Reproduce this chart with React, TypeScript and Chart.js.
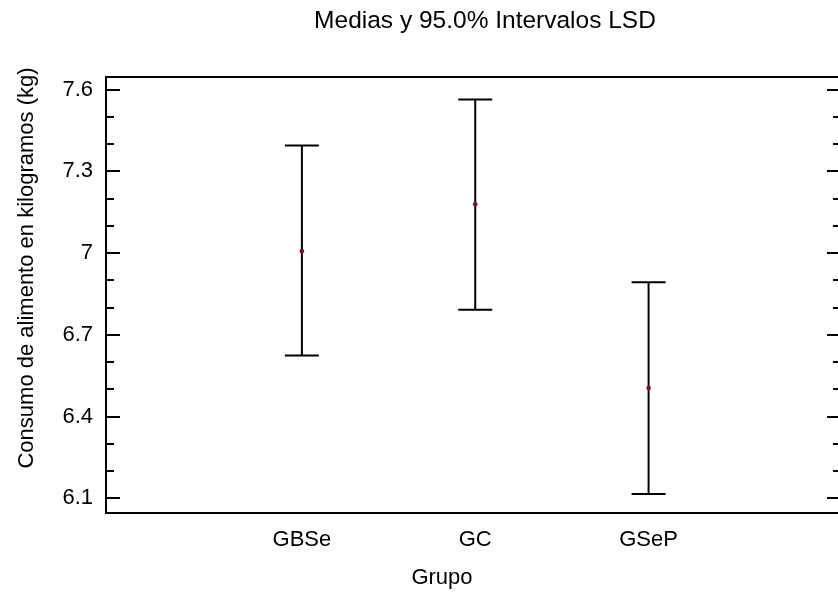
import React, { useEffect, useRef } from 'react';
import { Chart, registerables } from 'chart.js';

Chart.register(...registerables);

// ---- data ----
const groups = ['GBSe', 'GC', 'GSeP'];
const means = [7.007, 7.179, 6.505];
const lowerLimits = [6.624, 6.792, 6.116];
const upperLimits = [7.395, 7.563, 6.893];

const yMajorTicks = [6.1, 6.4, 6.7, 7.0, 7.3, 7.6];
const yTickLabels = ['6.1', '6.4', '6.7', '7', '7.3', '7.6'];
const yMinorTicks = [6.2, 6.3, 6.5, 6.6, 6.8, 6.9, 7.1, 7.2, 7.4, 7.5];
const yRange = [6.046, 7.646];
const xRange = [-0.13, 4.11];

const chartTitle = 'Medias y 95.0% Intervalos LSD';
const xTitle = 'Grupo';
const yTitle = 'Consumo de alimento en kilogramos (kg)';

// ---- styles ----
const FONT = "'Liberation Sans', Arial, Helvetica, sans-serif";
const INK = '#000000';
const MEAN_COLOR = '#7a0a3c';
const CANVAS_W = 860;
const CANVAS_H = 597;

const setTicks = (values: number[]) => (scale: any) => {
  scale.ticks = values.map((v) => ({ value: v }));
};
const fixWidth = (w: number) => (scale: any) => {
  scale.width = w;
};
const fixHeight = (h: number) => (scale: any) => {
  scale.height = h;
};

const titlesPlugin = {
  id: 'titles',
  afterDraw(chart: any) {
    const ctx = chart.ctx as CanvasRenderingContext2D;
    ctx.save();
    ctx.fillStyle = INK;
    ctx.textAlign = 'center';
    ctx.textBaseline = 'middle';
    ctx.font = `24.5px ${FONT}`;
    ctx.fillText(chartTitle, 485, 21);
    ctx.font = `22px ${FONT}`;
    ctx.fillText(xTitle, 442, 578);
    ctx.translate(27, 268);
    ctx.rotate(-Math.PI / 2);
    ctx.fillText(yTitle, 0, 0);
    ctx.restore();
  },
};

export default function App() {
  const canvasRef = useRef<HTMLCanvasElement | null>(null);

  useEffect(() => {
    const canvas = canvasRef.current;
    if (!canvas) return;

    const errorBarSets = groups.map((g, i) => ({
      label: g,
      data: [
        { x: i + 1, y: lowerLimits[i] },
        { x: i + 1, y: upperLimits[i] },
      ],
      showLine: true,
      borderColor: INK,
      borderWidth: 2,
      tension: 0,
      fill: false,
      pointStyle: 'line',
      pointRadius: 17,
      pointHoverRadius: 17,
      pointBorderWidth: 2,
      pointBorderColor: INK,
      pointBackgroundColor: INK,
    }));

    const meanSet = {
      label: 'Medias',
      data: means.map((m, i) => ({ x: i + 1, y: m })),
      showLine: false,
      pointStyle: 'circle',
      pointRadius: 2.3,
      pointBorderWidth: 0,
      pointBackgroundColor: MEAN_COLOR,
      backgroundColor: MEAN_COLOR,
      borderColor: MEAN_COLOR,
    };

    const tickFont = { family: FONT, size: 22 };

    const chart = new Chart(canvas, {
      type: 'scatter',
      data: { datasets: [meanSet, ...errorBarSets] as any },
      options: {
        animation: false,
        responsive: false,
        devicePixelRatio: 1,
        events: [],
        layout: { padding: { top: 77, left: 0, right: CANVAS_W - 845, bottom: 0 } },
        plugins: {
          legend: { display: false },
          tooltip: { enabled: false },
          title: { display: false },
        },
        scales: {
          x: {
            type: 'linear',
            position: 'bottom',
            min: xRange[0],
            max: xRange[1],
            afterBuildTicks: setTicks([1, 2, 3]),
            afterFit: fixHeight(CANVAS_H - 513),
            grid: { display: true, drawOnChartArea: false, drawTicks: false },
            border: { display: true, color: INK, width: 2 },
            ticks: {
              autoSkip: false,
              maxRotation: 0,
              padding: 14,
              color: INK,
              font: tickFont,
              callback: (v: any) => groups[Number(v) - 1] ?? '',
            },
          },
          xTop: {
            type: 'linear',
            position: 'top',
            min: xRange[0],
            max: xRange[1],
            afterFit: fixHeight(0),
            grid: { display: true, drawOnChartArea: false, drawTicks: false },
            border: { display: true, color: INK, width: 2 },
            ticks: { display: false },
          },
          y: {
            type: 'linear',
            position: 'left',
            weight: 10,
            min: yRange[0],
            max: yRange[1],
            afterBuildTicks: setTicks(yMajorTicks),
            afterFit: fixWidth(106),
            grid: {
              display: true,
              drawOnChartArea: false,
              drawTicks: true,
              tickLength: -14,
              tickWidth: 2,
              lineWidth: 2,
              tickColor: INK,
              color: INK,
            },
            border: { display: true, color: INK, width: 2 },
            ticks: {
              autoSkip: false,
              padding: 27,
              color: INK,
              font: tickFont,
              callback: (v: any) => {
                const i = yMajorTicks.findIndex((t) => Math.abs(t - Number(v)) < 1e-9);
                return i >= 0 ? yTickLabels[i] : '';
              },
            },
          },
          yMinor: {
            type: 'linear',
            position: 'left',
            weight: 0,
            min: yRange[0],
            max: yRange[1],
            afterBuildTicks: setTicks(yMinorTicks),
            afterFit: fixWidth(0),
            grid: {
              display: true,
              drawOnChartArea: false,
              drawTicks: true,
              tickLength: -8,
              tickWidth: 2,
              lineWidth: 2,
              tickColor: INK,
              color: INK,
            },
            border: { display: false },
            ticks: { display: false, autoSkip: false },
          },
          yRight: {
            type: 'linear',
            position: 'right',
            min: yRange[0],
            max: yRange[1],
            afterBuildTicks: setTicks(yMajorTicks),
            afterFit: fixWidth(0),
            grid: {
              display: true,
              drawOnChartArea: false,
              drawTicks: true,
              tickLength: -14,
              tickWidth: 2,
              lineWidth: 2,
              tickColor: INK,
              color: INK,
            },
            border: { display: true, color: INK, width: 2 },
            ticks: { display: false, autoSkip: false },
          },
          yRightMinor: {
            type: 'linear',
            position: 'right',
            min: yRange[0],
            max: yRange[1],
            afterBuildTicks: setTicks(yMinorTicks),
            afterFit: fixWidth(0),
            grid: {
              display: true,
              drawOnChartArea: false,
              drawTicks: true,
              tickLength: -8,
              tickWidth: 2,
              lineWidth: 2,
              tickColor: INK,
              color: INK,
            },
            border: { display: false },
            ticks: { display: false, autoSkip: false },
          },
        },
      } as any,
      plugins: [titlesPlugin],
    });

    return () => chart.destroy();
  }, []);

  return (
    <div
      style={{
        position: 'fixed',
        left: 0,
        top: 0,
        width: 838,
        height: CANVAS_H,
        overflow: 'hidden',
        background: '#ffffff',
      }}
    >
      <canvas
        ref={canvasRef}
        width={CANVAS_W}
        height={CANVAS_H}
        style={{ width: CANVAS_W, height: CANVAS_H, display: 'block' }}
      />
    </div>
  );
}
